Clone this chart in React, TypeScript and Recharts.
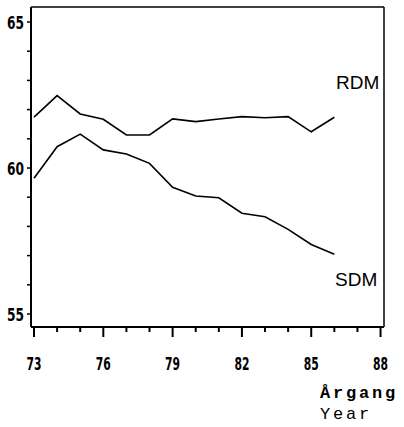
import React from 'react';
import { LineChart, Line, XAxis, YAxis, ReferenceLine } from 'recharts';

const years = [73, 74, 75, 76, 77, 78, 79, 80, 81, 82, 83, 84, 85, 86];
const rdm = [61.74, 62.48, 61.85, 61.67, 61.13, 61.13, 61.68, 61.59, 61.68, 61.76, 61.72, 61.76, 61.24, 61.74];
const sdm = [59.65, 60.73, 61.16, 60.62, 60.48, 60.16, 59.34, 59.04, 58.98, 58.45, 58.33, 57.9, 57.38, 57.05];

const xTicks = [73, 74, 75, 76, 77, 78, 79, 80, 81, 82, 83, 84, 85, 86, 87, 88];
const xLabels = [73, 76, 79, 82, 85, 88];
const yTicks = [55, 56, 57, 58, 59, 60, 61, 62, 63, 64, 65];
const yLabels = [55, 60, 65];

const X_DOMAIN = [72.87, 88.15];
const Y_DOMAIN = [54.555, 65.514];

const data = years.map((y, i) => ({ year: y, rdm: rdm[i], sdm: sdm[i] }));

const tickFont = "'Liberation Sans Narrow', 'DejaVu Sans Condensed', sans-serif";

const XTick = ({ x, y, payload }: any) => {
  const v = payload.value;
  const major = xLabels.includes(v);
  return (
    <g>
      <line x1={x} y1={y} x2={x} y2={y + (major ? 10 : 5)} stroke="#000" strokeWidth={2} />
      {major && (
        <text
          x={x}
          y={y + 43}
          textAnchor="middle"
          fontFamily={tickFont}
          fontWeight="bold"
          fontSize={17}
          textLength={15}
          lengthAdjust="spacingAndGlyphs"
          fill="#000"
        >
          {v}
        </text>
      )}
    </g>
  );
};

const YTick = ({ x, y, payload }: any) => {
  const v = payload.value;
  const major = yLabels.includes(v);
  return (
    <g>
      <line x1={x - 4} y1={y} x2={x} y2={y} stroke="#000" strokeWidth={1.5} />
      {major && (
        <text
          x={x - 7}
          y={y + 6.5}
          textAnchor="end"
          fontFamily={tickFont}
          fontWeight="bold"
          fontSize={18}
          textLength={17}
          lengthAdjust="spacingAndGlyphs"
          fill="#000"
        >
          {v}
        </text>
      )}
    </g>
  );
};

const labelStyle: React.CSSProperties = {
  position: 'absolute',
  fontFamily: "'Liberation Sans', Arial, sans-serif",
  fontSize: 19,
  lineHeight: '19px',
  color: '#000',
};

const monoStyle: React.CSSProperties = {
  position: 'absolute',
  left: 320,
  fontFamily: "'Liberation Mono', 'DejaVu Sans Mono', monospace",
  fontSize: 17,
  lineHeight: '18px',
  letterSpacing: 2.8,
  color: '#000',
};

export default function App() {
  return (
    <div style={{ position: 'absolute', left: 0, top: 0, width: 404, height: 427, background: '#fff' }}>
      <LineChart width={404} height={427} data={data} margin={{ top: 7, right: 20, bottom: 0, left: 0 }}>
        <XAxis
          dataKey="year"
          type="number"
          domain={X_DOMAIN}
          ticks={xTicks}
          height={100}
          tickSize={0}
          tickMargin={0}
          tickLine={false}
          tick={<XTick />}
          axisLine={{ stroke: '#000', strokeWidth: 2 }}
          interval={0}
        />
        <YAxis
          type="number"
          domain={Y_DOMAIN}
          ticks={yTicks}
          width={31}
          tickSize={0}
          tickMargin={0}
          tickLine={false}
          tick={<YTick />}
          axisLine={{ stroke: '#000', strokeWidth: 2 }}
          interval={0}
        />
        <ReferenceLine y={Y_DOMAIN[1]} stroke="#000" strokeWidth={1.5} />
        <ReferenceLine x={X_DOMAIN[1]} stroke="#000" strokeWidth={1.5} />
        <Line dataKey="rdm" type="linear" stroke="#000" strokeWidth={1.6} dot={false} isAnimationActive={false} />
        <Line dataKey="sdm" type="linear" stroke="#000" strokeWidth={1.6} dot={false} isAnimationActive={false} />
      </LineChart>
      <div style={{ ...labelStyle, left: 336, top: 73 }}>RDM</div>
      <div style={{ ...labelStyle, left: 335, top: 270 }}>SDM</div>
      <div style={{ ...monoStyle, top: 385, fontWeight: 'bold' }}>Årgang</div>
      <div style={{ ...monoStyle, top: 406 }}>Year</div>
    </div>
  );
}
